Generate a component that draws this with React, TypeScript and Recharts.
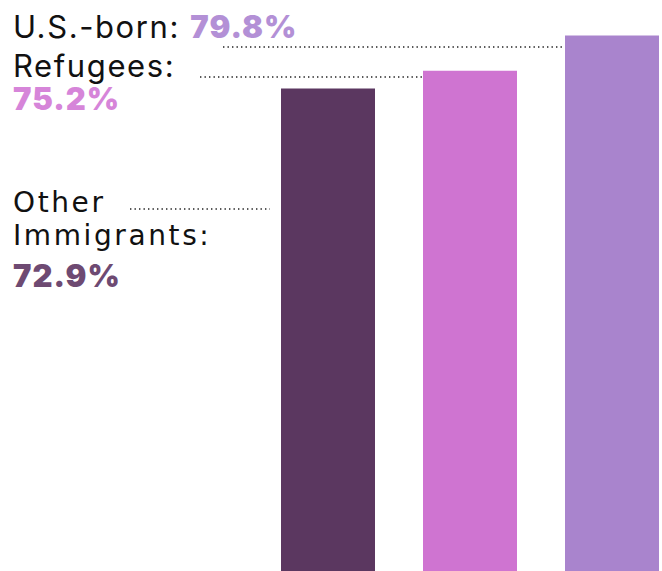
import { BarChart, Bar, XAxis, YAxis, Cell } from 'recharts'

const groups = ['Other Immigrants', 'Refugees', 'U.S.-born']
const shares = [72.9, 75.2, 79.8]
const barColors = ['#5b3760', '#cf74d1', '#a984cd']
const labelColors = ['#6e4a72', '#d685d9', '#b390d6']

const data = groups.map((g, i) => ({ group: g, share: shares[i] }))

const fmt = (v: number) => `${v.toFixed(1)}%`

const font = 'Inter, "Noto Sans", sans-serif'
const wide = '"DejaVu Sans", Inter, sans-serif'
const dots = { stroke: '#222', strokeWidth: 1.6, strokeDasharray: '1.4 3.1' }
const pct = { fontFamily: font, fontSize: 31, fontWeight: 900, letterSpacing: 1 }

export default function App() {
  return (
    <div style={{ position: 'absolute', left: 0, top: 0, width: 662, height: 571, overflow: 'hidden', background: '#fff' }}>
      <BarChart width={700} height={571} data={data} margin={{ top: 34, right: 17, left: 257, bottom: 0 }}>
        <XAxis dataKey="group" hide />
        <YAxis domain={[10, 80]} hide />
        <Bar dataKey="share" barSize={94} isAnimationActive={false}>
          {data.map((d, i) => <Cell key={d.group} fill={barColors[i]} />)}
        </Bar>
      </BarChart>

      <svg width={662} height={571} style={{ position: 'absolute', left: 0, top: 0, pointerEvents: 'none' }}>
        <line x1={223} y1={47} x2={565} y2={47} {...dots} />
        <line x1={200} y1={77} x2={423} y2={77} {...dots} />
        <line x1={130} y1={209} x2={270} y2={209} {...dots} />

        <g fill="#111">
          <text x={13} y={38} fontFamily={font} fontSize={31} letterSpacing={1.6}>
            {groups[2]}: <tspan {...pct} fill={labelColors[2]}>{fmt(shares[2])}</tspan>
          </text>
          <text x={13} y={77} fontFamily={font} fontSize={31} letterSpacing={1.6}>{groups[1]}:</text>
          <text x={13} y={110} {...pct} fill={labelColors[1]}>{fmt(shares[1])}</text>
          <text x={13} y={212} fontFamily={wide} fontSize={28} letterSpacing={2.6}>Other</text>
          <text x={13} y={245} fontFamily={wide} fontSize={28} letterSpacing={2.6}>Immigrants:</text>
          <text x={13} y={287} {...pct} fill={labelColors[0]}>{fmt(shares[0])}</text>
        </g>
      </svg>
    </div>
  )
}
